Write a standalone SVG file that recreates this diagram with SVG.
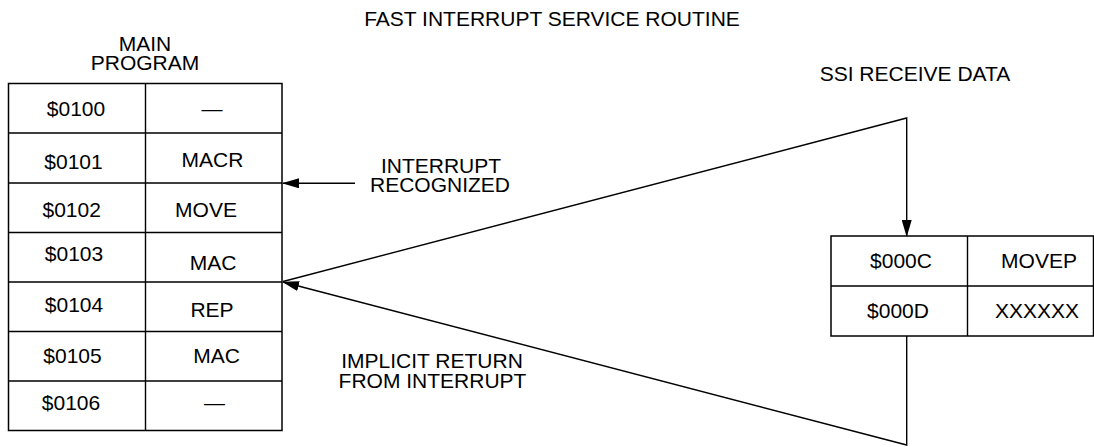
<svg xmlns="http://www.w3.org/2000/svg" width="1094" height="447" viewBox="0 0 1094 447">
<style>
text{font-family:"Liberation Sans",Arial,Helvetica,sans-serif;font-size:21px;fill:#000;text-anchor:middle}
.box{fill:#fff;stroke:#000;stroke-width:1.5}
.ln{fill:none;stroke:#000;stroke-width:1.4}
</style>
<defs>
<marker id="ah" markerWidth="17" markerHeight="10" refX="16" refY="5" orient="auto" markerUnits="userSpaceOnUse">
<path d="M0,0 L17,5 L0,10 Z" fill="#000"/>
</marker>
</defs>
<rect width="1094" height="447" fill="#fff"/>
<text x="552" y="25.5">FAST INTERRUPT SERVICE ROUTINE</text>
<g id="main-program">
<text x="145" y="51">MAIN</text>
<text x="145" y="70">PROGRAM</text>
<rect class="box" x="8.5" y="83.5" width="273.5" height="347"/>
<path class="ln" d="M145.5,83.5V430.5M8.5,133H282M8.5,183H282M8.5,232.5H282M8.5,282H282M8.5,331.5H282M8.5,381H282" stroke-width="1.5"/>
<text x="76" y="115.5">$0100</text><text x="212" y="115.5">—</text>
<text x="73.5" y="169">$0101</text><text x="212.5" y="167">MACR</text>
<text x="71.7" y="217">$0102</text><text x="206" y="217">MOVE</text>
<text x="74" y="261">$0103</text><text x="213" y="270">MAC</text>
<text x="74" y="312">$0104</text><text x="212" y="317">REP</text>
<text x="72.5" y="363">$0105</text><text x="216.5" y="363">MAC</text>
<text x="71" y="410">$0106</text><text x="214.5" y="410">—</text>
</g>
<g id="isr">
<text x="915" y="81">SSI RECEIVE DATA</text>
<rect class="box" x="831" y="236" width="262.5" height="100"/>
<path class="ln" d="M967.5,236V336M831,286H1093.5" stroke-width="1.5"/>
<text x="901" y="268">$000C</text><text x="1039" y="268">MOVEP</text>
<text x="898" y="318">$000D</text><text x="1037" y="318">XXXXXX</text>
</g>
<g id="labels">
<text x="441" y="172.5">INTERRUPT</text>
<text x="440" y="191.5">RECOGNIZED</text>
<text x="432" y="368">IMPLICIT RETURN</text>
<text x="432.5" y="388">FROM INTERRUPT</text>
</g>
<g id="connectors">
<path class="ln" d="M355,183.3H283" marker-end="url(#ah)"/>
<path class="ln" d="M906.7,336V445L283,282" marker-end="url(#ah)"/>
<path class="ln" d="M283,281.5L906.7,118V236" marker-end="url(#ah)"/>
</g>
</svg>
